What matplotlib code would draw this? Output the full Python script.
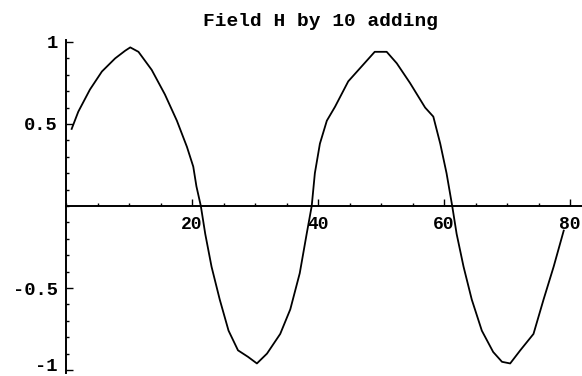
import matplotlib.pyplot as plt
from matplotlib.ticker import MultipleLocator, FixedLocator
from matplotlib.transforms import ScaledTranslation

# samples of the field H (position, value)
pos = [0.9, 1.95, 3.8, 5.7, 7.8, 9.4, 10.2, 11.5, 13.6, 15.7, 17.6, 19.2, 20.2, 20.7, 21.4,
       22.1, 23.1, 24.4, 25.8, 27.3, 28.9, 30.3, 31.9, 34.0, 35.6, 37.1, 38.2, 39.0,
       39.5, 40.3, 41.4, 42.7, 44.8, 46.9, 49.0, 50.9, 52.5, 54.6, 57.0, 58.3, 59.4, 60.4, 61.3,
       62.0, 63.1, 64.4, 66.0, 67.8, 69.2, 70.5, 72.1, 74.2, 75.8, 77.4, 79.0]
field = [0.47, 0.575, 0.71, 0.82, 0.90, 0.947, 0.967, 0.94, 0.83, 0.68, 0.52, 0.36, 0.24, 0.12, 0.0,
         -0.17, -0.37, -0.57, -0.76, -0.88, -0.92, -0.96, -0.90, -0.78, -0.63, -0.41, -0.17, 0.0,
         0.2, 0.38, 0.52, 0.605, 0.76, 0.85, 0.94, 0.94, 0.87, 0.75, 0.60, 0.545, 0.38, 0.2, 0.0,
         -0.17, -0.37, -0.57, -0.76, -0.89, -0.95, -0.96, -0.88, -0.78, -0.57, -0.37, -0.15]

x_ticks = [20, 40, 60, 80]
y_ticks = [-1, -0.5, 0.5, 1]
y_labels = ['-1', '-0.5', '0.5', '1']

mono = ['Liberation Mono', 'DejaVu Sans Mono']

fig = plt.figure(figsize=(5.82, 3.76), dpi=100)
ax = fig.add_axes([0.1134, 0.0072, 0.8866, 0.8864])

ax.plot(pos, field, color='black', lw=1.3)

ax.set_xlim(0, 81.9)
ax.set_ylim(-1.02, 1.012)

# axes drawn through the origin
ax.spines['left'].set_position(('data', 0))
ax.spines['bottom'].set_position(('data', 0))
ax.spines['right'].set_visible(False)
ax.spines['top'].set_visible(False)
for s in ('left', 'bottom'):
    ax.spines[s].set_linewidth(1.4)

ax.xaxis.set_major_locator(FixedLocator(x_ticks))
ax.xaxis.set_minor_locator(MultipleLocator(5))
ax.yaxis.set_major_locator(FixedLocator(y_ticks))
ax.yaxis.set_minor_locator(MultipleLocator(0.1))
ax.set_yticklabels(y_labels)

ax.tick_params(axis='x', which='major', direction='in', length=5, width=1, pad=7)
ax.tick_params(axis='x', which='minor', direction='in', length=2.5, width=1)
ax.tick_params(axis='y', which='major', direction='in', length=5, width=1, pad=6)
ax.tick_params(axis='y', which='minor', direction='in', length=2.5, width=1)

for lbl in ax.get_xticklabels():
    lbl.set_family(mono)
    lbl.set_fontsize(13)
    lbl.set_fontweight('bold')
for lbl in ax.get_yticklabels():
    lbl.set_family(mono)
    lbl.set_fontsize(13.5)
    lbl.set_fontweight('bold')

# lift the bottom label a little so it stays inside the figure
low = ax.get_yticklabels()[0]
low.set_transform(low.get_transform() + ScaledTranslation(0, 4 / 72, fig.dpi_scale_trans))

fig.text(0.55, 0.944, 'Field H by 10 adding', ha='center', va='center',
         family=mono, fontsize=14, fontweight='bold')

fig.savefig('out.png', dpi=100)
